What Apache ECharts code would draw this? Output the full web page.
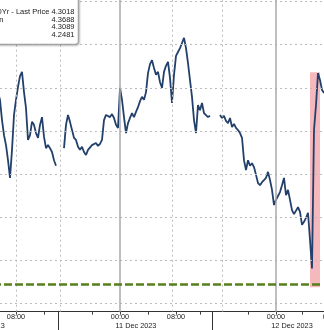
<!DOCTYPE html>
<html><head><meta charset="utf-8">
<script src="https://cdn.jsdelivr.net/npm/echarts@6/dist/echarts.min.js"></script>
<style>html,body{margin:0;padding:0;background:#fff}#c{width:324px;height:330px}</style>
</head><body><div id="c"></div>
<script>
// ---- data (one point every ~20 min; nulls = market closed) ----
const leadNulls = 19;           // hidden points left of the visible window
const leadValue = [4.2890];     // last value just off-screen left
const yields = [
 4.2872,4.2825,4.2790,4.2767,4.2732,4.2691,4.2756,4.2837,4.2872,4.2902,
 4.2927,4.2937,4.2890,4.2853,4.2779,4.2790,4.2821,4.2814,4.2795,4.2784,
 4.2814,4.2832,4.2786,4.2760,4.2767,4.2760,4.2751,4.2732,4.2719,null,
 null,null,4.2760,4.2814,4.2837,4.2821,4.2802,4.2784,4.2779,4.2763,
 4.2756,4.2763,4.2751,4.2744,4.2756,4.2760,4.2767,4.2763,4.2772,4.2765,
 4.2770,4.2779,4.2825,4.2837,4.2841,4.2832,4.2839,4.2830,4.2814,4.2807,
 4.2900,4.2872,4.2832,4.2795,4.2818,4.2830,4.2841,4.2832,4.2844,4.2855,
 4.2869,4.2879,4.2872,4.2890,4.2934,4.2955,4.2964,4.2946,4.2930,4.2937,
 4.2913,4.2900,4.2937,4.2951,4.2960,4.2923,4.2865,4.2930,4.2974,4.2983,
 4.2992,4.3004,4.3016,4.2992,4.2957,4.2918,4.2879,4.2825,4.2795,4.2860,
 4.2848,4.2865,4.2841,4.2844,4.2832,4.2835,null,null,null,null,
 4.2837,4.2830,4.2835,4.2823,4.2818,4.2830,4.2809,4.2816,4.2807,4.2802,
 4.2795,4.2784,4.2732,4.2709,4.2732,4.2719,4.2725,4.2716,4.2698,4.2679,
 4.2674,4.2681,4.2686,4.2691,4.2705,4.2686,4.2663,4.2628,4.2640,4.2649,
 4.2658,4.2674,4.2691,4.2651,4.2663,4.2640,4.2616,4.2607,4.2605,4.2623,
 4.2612,4.2582,4.2589,4.2598,4.2610,4.2547,4.2481,4.2802,4.2860,4.2934,
 4.2918,4.2895,4.2888
];
const trailNulls = 6;
const totalPoints = leadNulls + leadValue.length + yields.length + trailNulls; // 189

const timeTickIdx  = [28, 42, 66, 80, 94, 108, 120, 144, 158, 171, 186];
const timeLabelIdx = [28, 80, 108, 158, 186];
const timeLabels   = ['08:00', '00:00', '08:00', '00:00', '08:00'];
const dayTickIdx   = [49, 126];
const dayLabelIdx  = [12, 88, 166];
const dayLabels    = ['10 Dec 2023', '11 Dec 2023', '12 Dec 2023'];
const hGridValues  = [4.24, 4.25, 4.26, 4.27, 4.28, 4.29, 4.30, 4.31];
const vGridIdx     = [28, 50, 106, 131];
const midnightIdx  = [80, 158];
const supportLevel = 4.2445;
const eventStartIdx = 175, eventEndIdx = 180;
const eventLow = 4.2437, eventHigh = 4.2936;

const legendNames  = ['USGG 10Yr - Last Price', 'High on', 'Average', 'Low on'];
const legendValues = ['4.3018', '4.3688', '4.3089', '4.2481'];

// ---- build ----
const categories = Array.from({length: totalPoints}, (_, i) => String(i));
const seriesData = [].concat(new Array(leadNulls).fill(null), leadValue, yields, new Array(trailNulls).fill(null));

const FONT = 'Liberation Sans';
const dotted = {type: [2, 3], color: '#bcbcbc', width: 1};

const legendGraphic = [{
  type: 'rect', z: 100,
  shape: {x: -10, y: -10, width: 88.3, height: 54.3, r: 3},
  style: {fill: '#fff', stroke: '#9c9c9c', lineWidth: 1,
          shadowBlur: 2, shadowColor: 'rgba(0,0,0,0.25)', shadowOffsetX: 1, shadowOffsetY: 1}
}];
const rowY = [11.7, 19.5, 27.3, 35];
const nameRight = [49.3, 3.5, -30, -30];
legendNames.forEach((n, k) => {
  legendGraphic.push({type: 'text', z: 101, x: nameRight[k], y: rowY[k],
    style: {text: n, fill: '#1a1a1a', font: '7.5px "' + FONT + '"', align: 'right', verticalAlign: 'middle'}});
  legendGraphic.push({type: 'text', z: 101, x: 74.5, y: rowY[k],
    style: {text: legendValues[k], fill: '#1a1a1a', font: '7.5px "' + FONT + '"', align: 'right', verticalAlign: 'middle'}});
});

const chart = echarts.init(document.getElementById('c'), null, {renderer: 'canvas'});
chart.setOption({
  animation: false,
  backgroundColor: '#fff',
  grid: {left: -40, right: -12, top: 0, bottom: 18.3, containLabel: false, outerBoundsMode: 'none'},
  xAxis: [{
    type: 'category', data: categories, boundaryGap: false, position: 'bottom',
    axisLine: {show: true, lineStyle: {color: '#333', width: 1}},
    axisTick: {show: true, length: 3, lineStyle: {color: '#444'},
               interval: (i) => timeTickIdx.includes(i)},
    axisLabel: {show: true, margin: 1.5, fontSize: 7.3, fontFamily: FONT, color: '#222',
                interval: (i) => timeLabelIdx.includes(i),
                formatter: (v, i) => { const k = timeLabelIdx.indexOf(i); return k >= 0 ? timeLabels[k] : ''; }},
    splitLine: {show: false}
  }, {
    type: 'category', data: categories, boundaryGap: false, position: 'bottom',
    axisLine: {show: false},
    axisTick: {show: true, length: 19, lineStyle: {color: '#333', width: 1},
               interval: (i) => dayTickIdx.includes(i)},
    axisLabel: {show: true, margin: 11, fontSize: 7.3, fontFamily: FONT, color: '#222',
                interval: (i) => dayLabelIdx.includes(i),
                formatter: (v, i) => { const k = dayLabelIdx.indexOf(i); return k >= 0 ? dayLabels[k] : ''; }},
    splitLine: {show: false}
  }],
  yAxis: {type: 'value', min: 4.23805, max: 4.31037, show: false, splitLine: {show: false}},
  series: [{
    name: 'grid', type: 'line', data: [], z: 1, silent: true,
    markLine: {silent: true, symbol: 'none', label: {show: false}, animation: false,
      lineStyle: dotted,
      data: [].concat(
        hGridValues.map(v => ({yAxis: v})),
        vGridIdx.map(i => ({xAxis: i})),
        midnightIdx.map(i => ({xAxis: i, lineStyle: {type: 'solid', color: '#a9a9a9', width: 1.5}}))
      )}
  }, {
    name: 'Last Price', type: 'line', data: seriesData, z: 3,
    showSymbol: false, symbol: 'none', connectNulls: false,
    lineStyle: {color: '#22406b', width: 1.8}
  }, {
    name: 'overlay', type: 'line', data: [], z: 5, silent: true,
    markArea: {silent: true, itemStyle: {color: 'rgba(238,140,148,0.62)'},
      data: [[{coord: [eventStartIdx, eventHigh]}, {coord: [eventEndIdx, eventLow]}]]},
    markLine: {silent: true, symbol: 'none', label: {show: false},
      lineStyle: {type: [8, 3], color: '#567f1d', width: 2.6},
      data: [[{coord: [0, supportLevel]}, {coord: [eventEndIdx, supportLevel]}]]}
  }],
  graphic: legendGraphic
});
</script></body></html>
